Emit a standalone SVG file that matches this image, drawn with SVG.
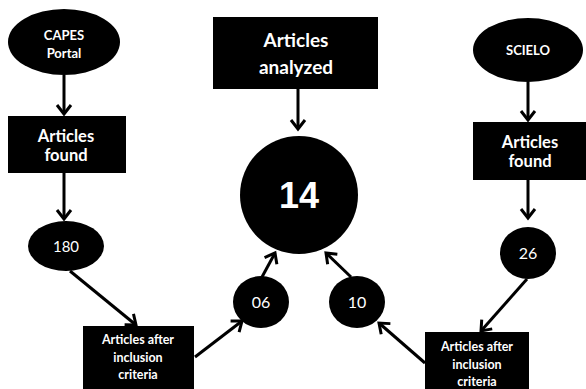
<svg xmlns="http://www.w3.org/2000/svg" width="586" height="389" viewBox="0 0 586 389">
<style>
.n{fill:#000}
.t{fill:#fff;font-family:Lato,"Open Sans","Liberation Sans",sans-serif;font-weight:bold;text-anchor:middle}
.r{font-weight:normal}
.big{fill:#fff;font-family:"Liberation Sans",Arial,sans-serif;font-weight:bold;text-anchor:middle;font-size:36px}
.c{stroke:#000;stroke-width:3;fill:none}
</style>
<defs>
<marker id="a" markerUnits="userSpaceOnUse" markerWidth="20" markerHeight="20" viewBox="-12 -10 14 20" refX="0" refY="0" orient="auto">
<path d="M-9,-7 L0,0 L-9,7" fill="none" stroke="#000" stroke-width="3"/>
</marker>
</defs>
<rect width="586" height="389" fill="#fff"/>
<g id="connectors">
<line class="c" x1="64" y1="75" x2="64" y2="114" marker-end="url(#a)"/>
<line class="c" x1="64" y1="173" x2="64" y2="219" marker-end="url(#a)"/>
<line class="c" x1="70" y1="271" x2="136" y2="325" marker-end="url(#a)"/>
<line class="c" x1="195" y1="357" x2="242" y2="321" marker-end="url(#a)"/>
<line class="c" x1="262" y1="277" x2="275" y2="253" marker-end="url(#a)"/>
<line class="c" x1="298" y1="89" x2="298" y2="129" marker-end="url(#a)"/>
<line class="c" x1="528" y1="82" x2="528" y2="120" marker-end="url(#a)"/>
<line class="c" x1="528" y1="180" x2="528" y2="218" marker-end="url(#a)"/>
<line class="c" x1="527" y1="279" x2="481" y2="331" marker-end="url(#a)"/>
<line class="c" x1="425" y1="363" x2="379" y2="323" marker-end="url(#a)"/>
<line class="c" x1="351" y1="277" x2="326" y2="253" marker-end="url(#a)"/>
</g>
<g id="capes">
<ellipse class="n" cx="64" cy="42" rx="56" ry="33"/>
<text class="t" x="64" y="40" font-size="13">CAPES</text>
<text class="t" x="64" y="58" font-size="13">Portal</text>
</g>
<g id="found-left">
<rect class="n" x="8" y="116" width="118" height="57"/>
<text class="t" x="66" y="142" font-size="16.5">Articles</text>
<text class="t" x="66" y="161" font-size="16.5">found</text>
</g>
<g id="n180">
<ellipse class="n" cx="66" cy="246" rx="38" ry="25"/>
<text class="t r" x="66" y="252" font-size="15">180</text>
</g>
<g id="criteria-left">
<rect class="n" x="83" y="326" width="111" height="70"/>
<text class="t" x="138" y="344" font-size="12.5">Articles after</text>
<text class="t" x="138" y="362" font-size="12.5">inclusion</text>
<text class="t" x="138" y="379" font-size="12.5">criteria</text>
</g>
<g id="n06">
<ellipse class="n" cx="261" cy="302" rx="28" ry="26"/>
<text class="t r" x="261" y="308" font-size="16">06</text>
</g>
<g id="analyzed">
<rect class="n" x="213" y="17" width="165" height="72"/>
<text class="t" x="296" y="47" font-size="19">Articles</text>
<text class="t" x="296" y="74" font-size="19">analyzed</text>
</g>
<g id="n14">
<circle class="n" cx="299" cy="195" r="59"/>
<text class="big" x="299" y="208">14</text>
</g>
<g id="scielo">
<ellipse class="n" cx="528" cy="50" rx="55" ry="32"/>
<text class="t" x="528" y="55" font-size="13">SCIELO</text>
</g>
<g id="found-right">
<rect class="n" x="473" y="122" width="113" height="58"/>
<text class="t" x="530" y="148" font-size="16.5">Articles</text>
<text class="t" x="530" y="167" font-size="16.5">found</text>
</g>
<g id="n26">
<ellipse class="n" cx="528" cy="253" rx="28" ry="26"/>
<text class="t r" x="528" y="259" font-size="16">26</text>
</g>
<g id="criteria-right">
<rect class="n" x="425" y="332" width="104" height="64"/>
<text class="t" x="477" y="351" font-size="12.5">Articles after</text>
<text class="t" x="477" y="369" font-size="12.5">inclusion</text>
<text class="t" x="477" y="386" font-size="12.5">criteria</text>
</g>
<g id="n10">
<ellipse class="n" cx="357" cy="302" rx="28" ry="26"/>
<text class="t r" x="357" y="308" font-size="16">10</text>
</g>
</svg>
